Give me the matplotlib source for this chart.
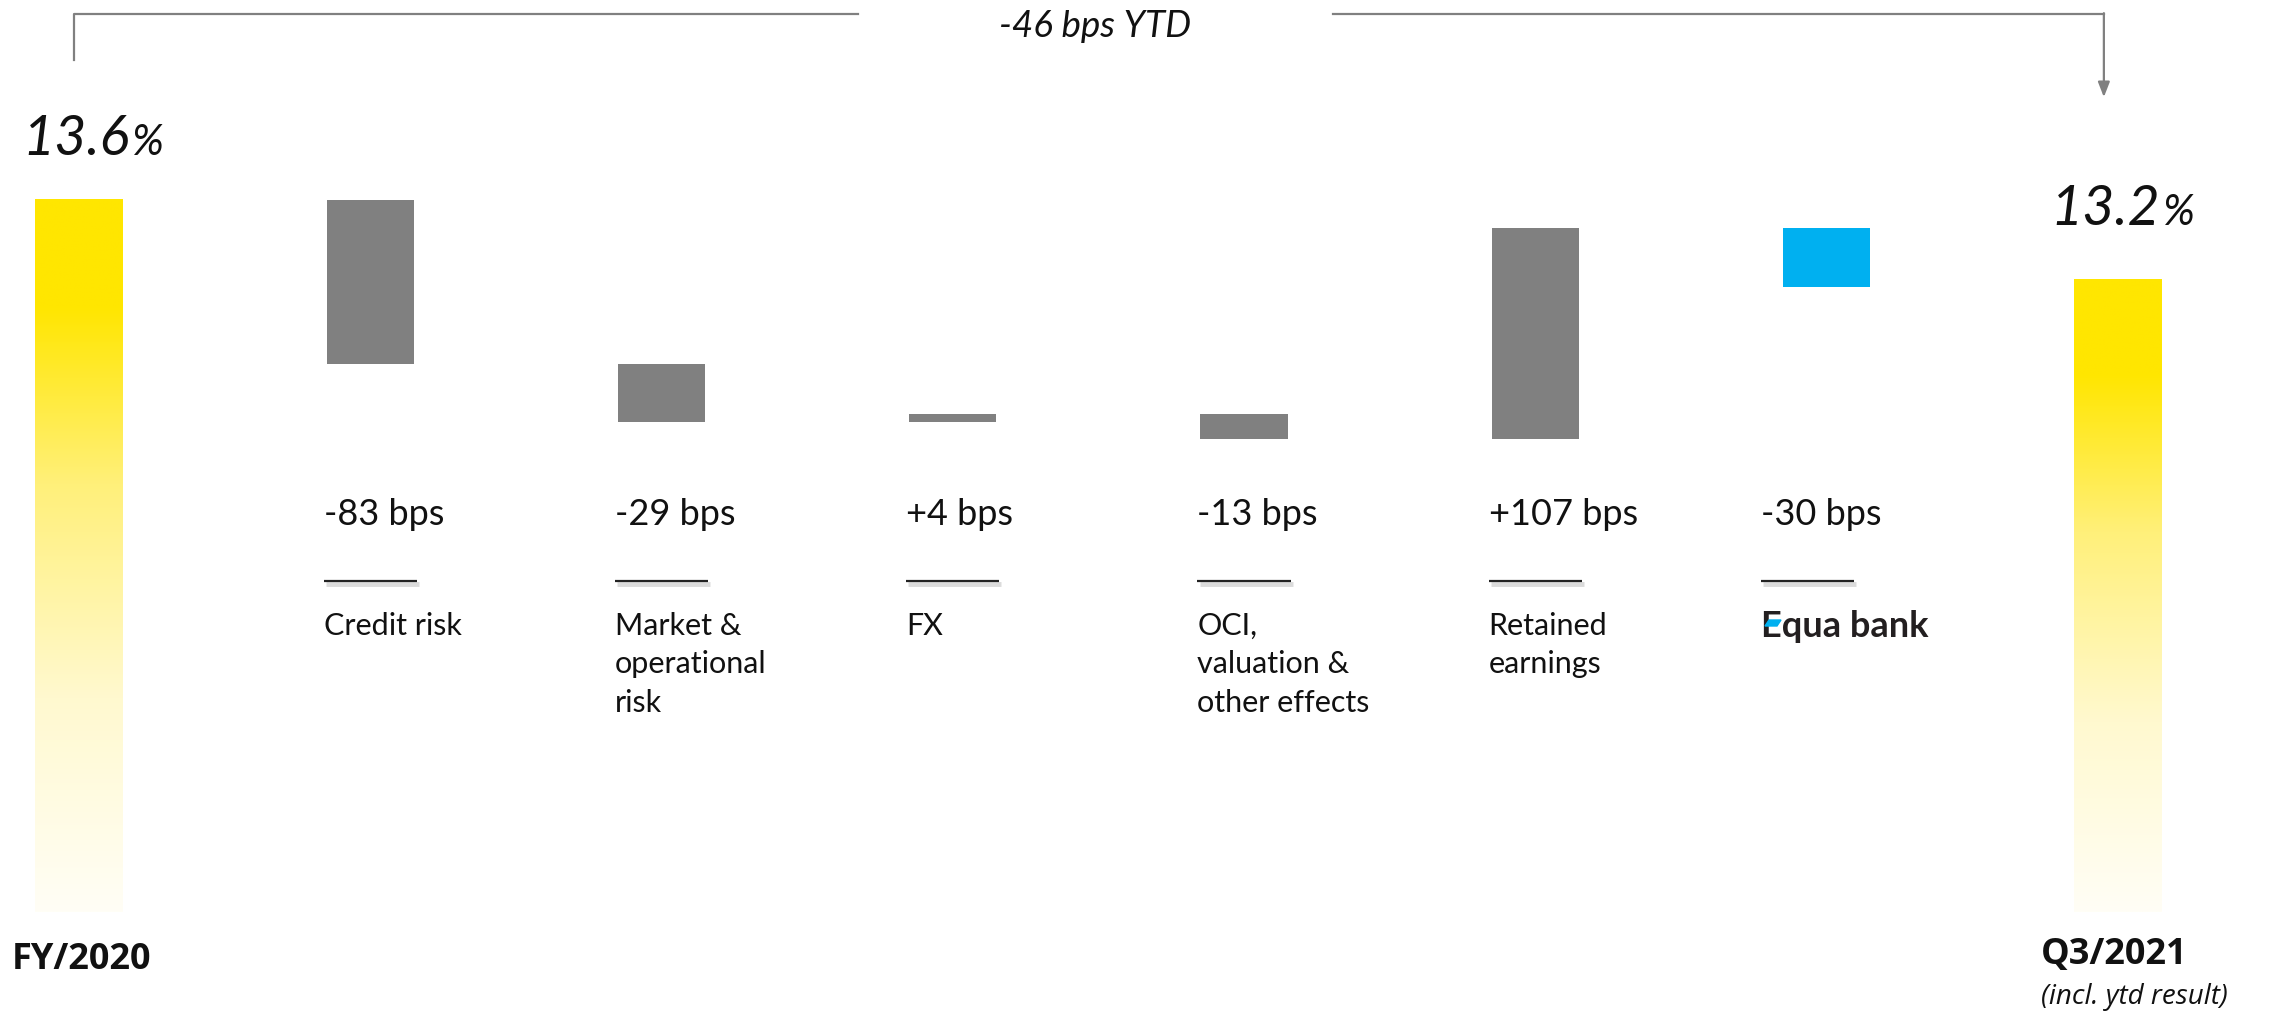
import numpy as np
import matplotlib
matplotlib.use('Agg')
from matplotlib import pyplot as plt
from matplotlib import patheffects as pe
from matplotlib.patches import Polygon
from matplotlib.colors import LinearSegmentedColormap

plt.rcParams['font.family'] = ['Lato', 'DejaVu Sans']

# CET1 ratio walk, FY/2020 -> Q3/2021
start_ratio = 13.6
end_ratio = 13.2
ytd_change_bps = -46
period_labels = ['FY/2020', 'Q3/2021']
period_note = '(incl. ytd result)'
categories = ['Credit risk', 'Market &\noperational\nrisk', 'FX',
              'OCI,\nvaluation &\nother effects', 'Retained\nearnings', 'Equa bank']
deltas_bps = [-83, -29, 4, -13, 107, -30]

baseline = 10.0
bar_w = 0.30
grey = '#808080'
blue = '#00B0F0'

fig = plt.figure(figsize=(22.72, 10.12), dpi=100)
ax = fig.add_axes([0, 0, 1, 1])
ax.axis('off')

# yellow bars with a fade towards the bottom
fade = LinearSegmentedColormap.from_list(
    'fade', [(0.0, '#FFFEF6'), (0.3, '#FFF9CF'), (0.6, '#FFF07A'),
             (0.85, '#FFE600'), (1.0, '#FFE600')])
grad = np.linspace(0, 1, 256).reshape(-1, 1)
n = len(categories)
for x, val in [(0, start_ratio), (n + 1, end_ratio)]:
    ax.imshow(grad, cmap=fade, origin='lower', aspect='auto',
              extent=[x - bar_w / 2, x + bar_w / 2, baseline, val], zorder=2)

# waterfall steps
level = start_ratio
for i, d in enumerate(deltas_bps):
    new = level + d / 100
    col = blue if categories[i] == 'Equa bank' else grey
    ax.bar(i + 1, abs(new - level), bottom=min(level, new), width=bar_w,
           color=col, zorder=2)
    level = new

ax.set_xlim(-0.271, n + 1.529)
ax.set_ylim(9.50, 14.616)

xf = ax.get_xaxis_transform()
for i, (cat, d) in enumerate(zip(categories, deltas_bps)):
    x0 = i + 1 - bar_w / 2 - 0.01
    if cat == 'Equa bank':
        x0 -= 0.066
    ax.text(x0, 0.4812, f'{d:+d} bps', transform=xf,
            ha='left', va='baseline', fontsize=26, color='#111111')
    ax.plot([x0, x0 + 0.32], [0.4249, 0.4249], transform=xf, color='#222222',
            lw=1.6, solid_capstyle='butt',
            path_effects=[pe.SimpleLineShadow(offset=(1.5, -2.5), shadow_color='#999999',
                                              alpha=0.35, linewidth=3.5),
                          pe.Normal()])
    if cat == 'Equa bank':
        ax.text(x0, 0.3705, cat, transform=xf, ha='left', va='baseline',
                fontsize=26, fontweight='bold', color='#231f20')
    else:
        ax.text(x0, 0.3953, cat, transform=xf, ha='left', va='top',
                fontsize=22, color='#111111', linespacing=1.45)

# blue stroke in the Equa logo's E
fig.patches.append(Polygon([(1765 / 2272, 1 - 627 / 1012), (1777 / 2272, 1 - 627 / 1012),
                            (1781 / 2272, 1 - 621 / 1012), (1769 / 2272, 1 - 621 / 1012)],
                           closed=True, transform=fig.transFigure, color=blue, zorder=5))

# ratio labels above the yellow bars
for x, val, dx, dy in [(0, start_ratio, -57, 46), (n + 1, end_ratio, -68, 55)]:
    num = ax.annotate(f'{val:.1f}', xy=(x, val), xytext=(dx, dy),
                      textcoords='offset pixels', ha='left', va='baseline',
                      fontsize=40, fontstyle='italic', color='#111111')
    ax.annotate('%', xy=(1, val), xycoords=(num, 'data'), xytext=(3, dy),
                textcoords='offset pixels', ha='left', va='baseline',
                fontsize=31, fontstyle='italic', color='#111111')

# period labels
ax.text(-0.230, 0.0514, period_labels[0], transform=xf, ha='left', va='center',
        fontsize=26, fontweight='bold', family='Open Sans', color='#111111')
ax.text(n + 1 - 0.264, 0.0563, period_labels[1], transform=xf, ha='left', va='center',
        fontsize=26, fontweight='bold', family='Open Sans', color='#111111')
ax.text(n + 1 - 0.264, 0.0148, period_note, transform=xf, ha='left', va='center',
        fontsize=20, fontstyle='italic', family='Open Sans', color='#111111')

# YTD bracket across the top
lc = '#808080'
ax.plot([0.0324, 0.0324, 0.3776], [0.940, 0.985, 0.985], transform=ax.transAxes,
        color=lc, lw=1.6)
ax.plot([0.5867, 0.926], [0.985, 0.985], transform=ax.transAxes, color=lc, lw=1.6)
ax.annotate('', xy=(0.926, 0.903), xytext=(0.926, 0.986), xycoords='axes fraction',
            arrowprops=dict(arrowstyle='-|>,head_length=0.9,head_width=0.35',
                            color=lc, lw=1.6, shrinkA=0, shrinkB=0))
ax.text(0.482, 0.974, f'{ytd_change_bps} bps YTD', transform=ax.transAxes,
        ha='center', va='center', fontsize=26.5, fontstyle='italic', color='#111111')

fig.savefig('out.png', dpi=100)
